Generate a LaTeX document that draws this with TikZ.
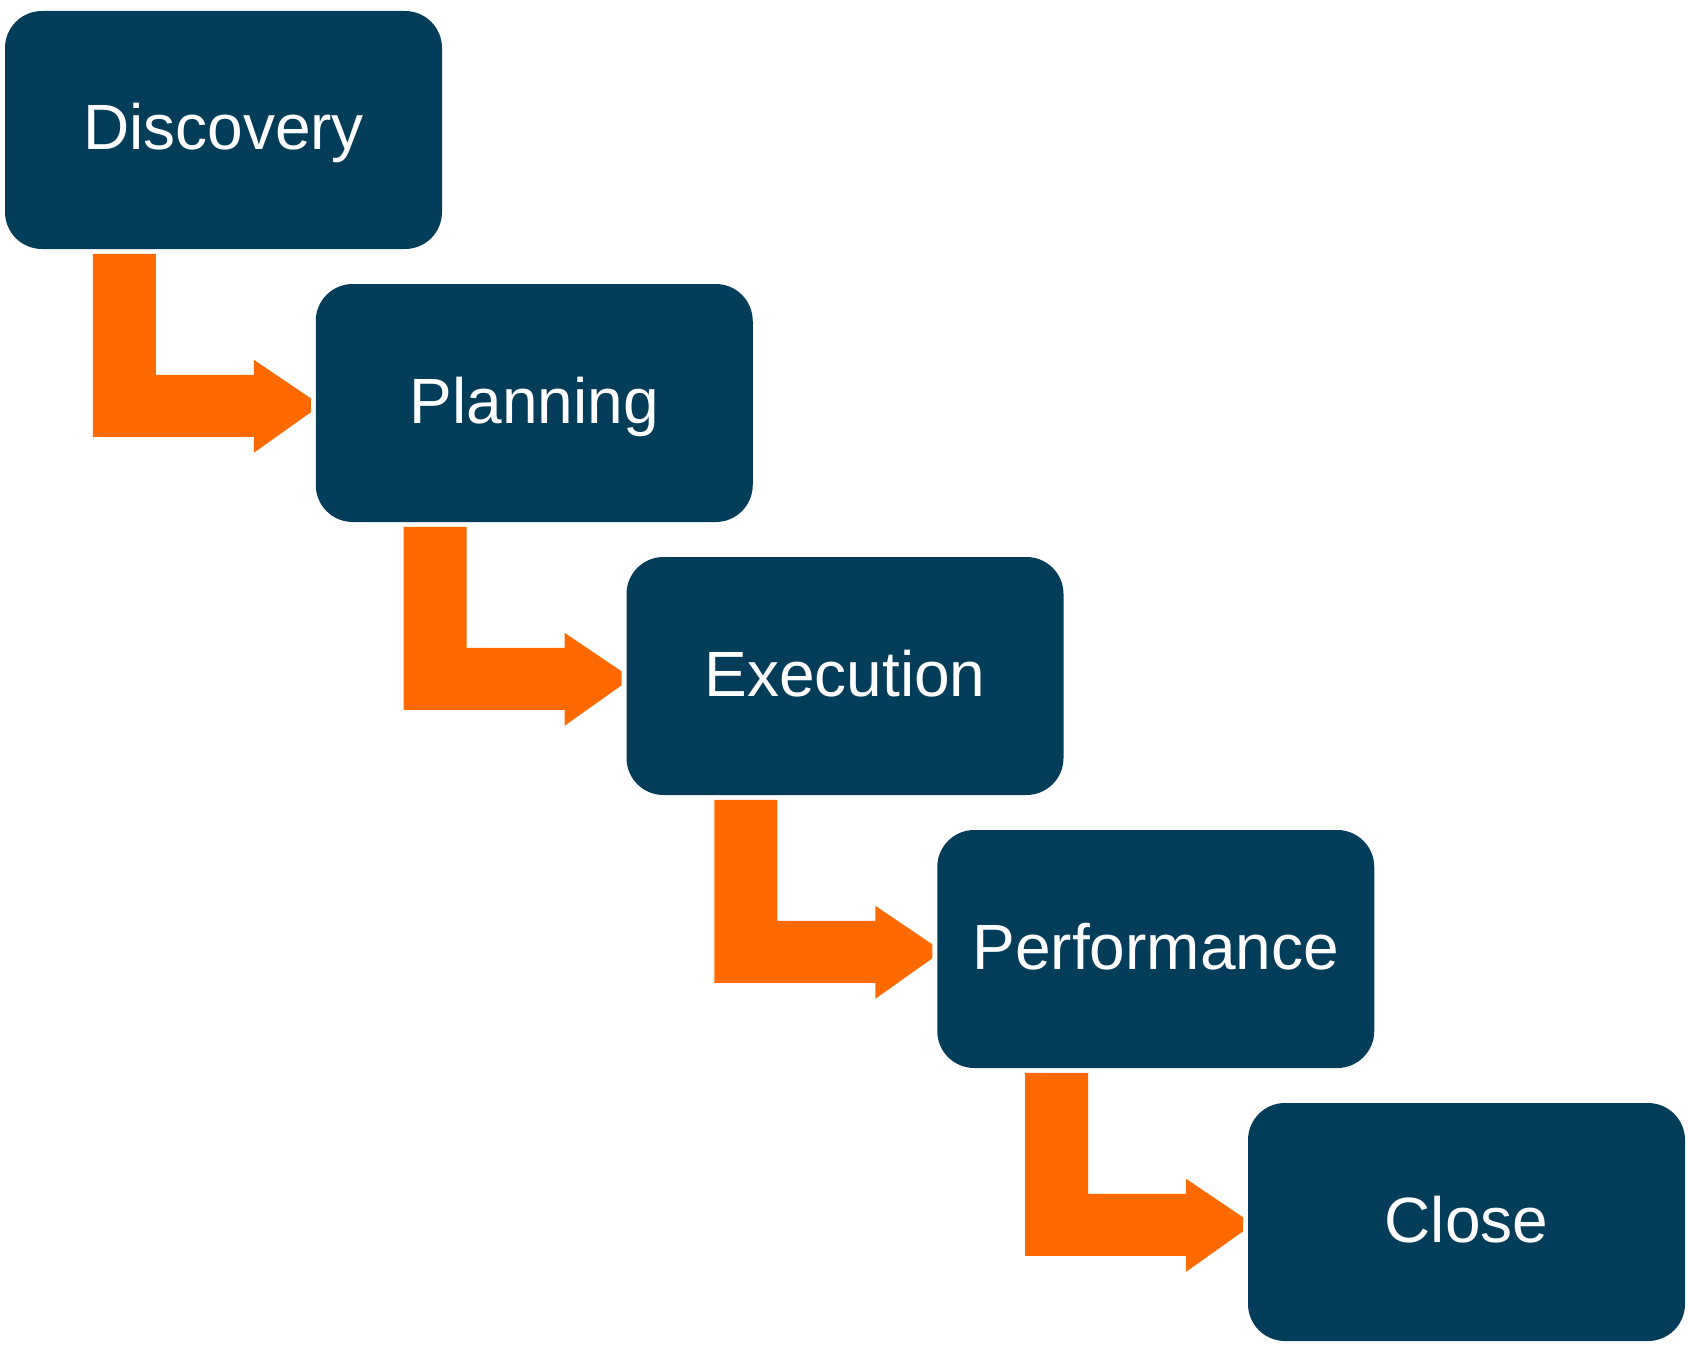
\documentclass[tikz,border=0pt]{standalone}
\usepackage{fontspec}
\setmainfont{Liberation Sans}
\usetikzlibrary{calc}
\definecolor{boxblue}{RGB}{3,61,89}
\definecolor{arroworange}{RGB}{255,106,0}
\tikzset{
  stagebox/.style={fill=boxblue, draw=none, rounded corners=37pt,
    minimum width=437pt, minimum height=238pt, inner sep=0pt},
  stagelabel/.style={text=white, font=\fontsize{64}{77}\selectfont, anchor=base, inner sep=0pt},
  arrowfill/.style={fill=arroworange, draw=none}
}
\newcommand\stepArrow[1]{%
  \fill[arrowfill] ($(#1.north west)+(88,243)$) -- ($(#1.north west)+(151,243)$)
    -- ($(#1.north west)+(151,364)$) -- ($(#1.north west)+(249,364)$)
    -- ($(#1.north west)+(249,349)$) -- ($(#1.north west)+(306,387.5)$)
    -- ($(#1.north west)+(306,401.5)$) -- ($(#1.north west)+(249,442)$)
    -- ($(#1.north west)+(249,426)$) -- ($(#1.north west)+(88,426)$) -- cycle;}
\begin{document}
\begin{tikzpicture}[x=1pt,y=-1pt]
\useasboundingbox (0,0) rectangle (1689,1351);
\foreach \i/\name/\txt in {0/b1/Discovery,1/b2/Planning,2/b3/Execution,3/b4/Performance,4/b5/Close}{
  \node[stagebox] (\name) at ({223.5+310.75*\i},{130+273*\i}) {};
  \node[stagelabel] (\name t) at ($(\name.center)+(0,20)$) {\txt};
}
\stepArrow{b1}
\stepArrow{b2}
\stepArrow{b3}
\stepArrow{b4}
\end{tikzpicture}
\end{document}
